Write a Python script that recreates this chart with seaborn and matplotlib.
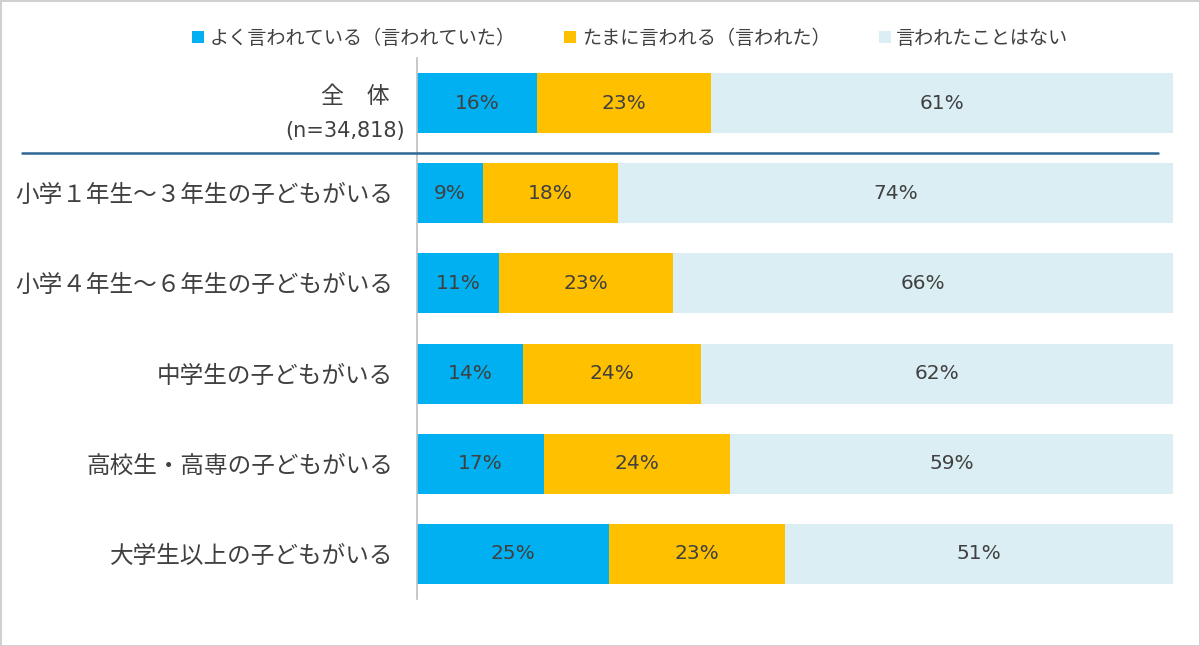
import seaborn as sns
import matplotlib.pyplot as plt
import matplotlib.transforms as mtransforms
import pandas as pd
from matplotlib.lines import Line2D
from matplotlib.patches import Patch

# categories (top to bottom)
groups = ['全　体',
          '小学１年生～３年生の子どもがいる',
          '小学４年生～６年生の子どもがいる',
          '中学生の子どもがいる',
          '高校生・高専の子どもがいる',
          '大学生以上の子どもがいる']
total_n = '(n=34,818)'

series = ['よく言われている（言われていた）', 'たまに言われる（言われた）', '言われたことはない']

# shares (percent)
often = [15.9, 8.7, 10.8, 14.0, 16.8, 25.4]
sometimes = [23.0, 17.9, 23.1, 23.5, 24.6, 23.3]
never = [61.1, 73.4, 66.1, 62.5, 58.6, 51.3]

# printed labels
often_lbl = [16, 9, 11, 14, 17, 25]
sometimes_lbl = [23, 18, 23, 24, 24, 23]
never_lbl = [61, 74, 66, 62, 59, 51]

colors = ['#00B0F0', '#FFC000', '#DAEEF3']

sns.set_theme(style='white')
plt.rcParams['font.family'] = ['Noto Sans CJK JP', 'DejaVu Sans']

df = pd.DataFrame({'group': groups, 'often': often, 'sometimes': sometimes, 'never': never})
df['c1'] = df['often']
df['c2'] = df['often'] + df['sometimes']
df['c3'] = df['c2'] + df['never']

fig = plt.figure(figsize=(12, 6.46), dpi=100)
ax = fig.add_axes([0.3475, 0.0728, 0.63, 0.8374])

# stacked bars by overlaying cumulative totals
for col, c in zip(['c3', 'c2', 'c1'], colors[::-1]):
    sns.barplot(data=df, x=col, y='group', orient='h', color=c, width=0.667,
                saturation=1, ax=ax, linewidth=0)

txt_color = '#404040'
for i in range(len(groups)):
    starts = [0, df['c1'][i], df['c2'][i]]
    widths = [often[i], sometimes[i], never[i]]
    labels = [often_lbl[i], sometimes_lbl[i], never_lbl[i]]
    for s, w, lab in zip(starts, widths, labels):
        ax.text(s + w / 2, i, f'{lab}%', ha='center', va='center',
                fontsize=14.5, color=txt_color, family=['DejaVu Sans'])

ax.set_xlim(0, 100)
ax.set_ylim(5.5, -0.5)
ax.set_xlabel('')
ax.set_ylabel('')
ax.set_xticks([])
ax.tick_params(axis='y', length=0, pad=17, labelsize=17, labelcolor=txt_color)
for s in ['top', 'right', 'bottom']:
    ax.spines[s].set_visible(False)
ax.spines['left'].set_color('#BFBFBF')
ax.spines['left'].set_linewidth(1.2)

# total row label drawn by hand (two lines, own alignment)
ax.set_yticks(range(len(groups)))
ax.set_yticklabels([''] + groups[1:])
trans = mtransforms.blended_transform_factory(ax.transAxes, ax.transData)
ax.text(-0.036, -0.07, groups[0], transform=trans, ha='right', va='center',
        fontsize=16.5, color=txt_color)
ax.text(-0.016, 0.31, total_n, transform=trans, ha='right', va='center',
        fontsize=15, color=txt_color, family=['DejaVu Sans'])

# separator under the total row
fig.add_artist(Line2D([22 / 1200, 1158 / 1200], [1 - 153 / 646, 1 - 153 / 646],
                      color='#2E6596', linewidth=1.8, transform=fig.transFigure))

handles = [Patch(facecolor=c, edgecolor='none') for c in colors]
fig.legend(handles, series, loc='center', bbox_to_anchor=(0.5253, 0.941), ncol=3,
           frameon=False, handlelength=0.6, handleheight=0.6, handletextpad=0.3,
           columnspacing=2.55, prop={'size': 13.8})
for t in fig.legends[0].get_texts():
    t.set_color(txt_color)

fig.patch.set_edgecolor('#D0D0D0')
fig.patch.set_linewidth(2)
fig.savefig('out.png', dpi=100, edgecolor=fig.get_edgecolor())
